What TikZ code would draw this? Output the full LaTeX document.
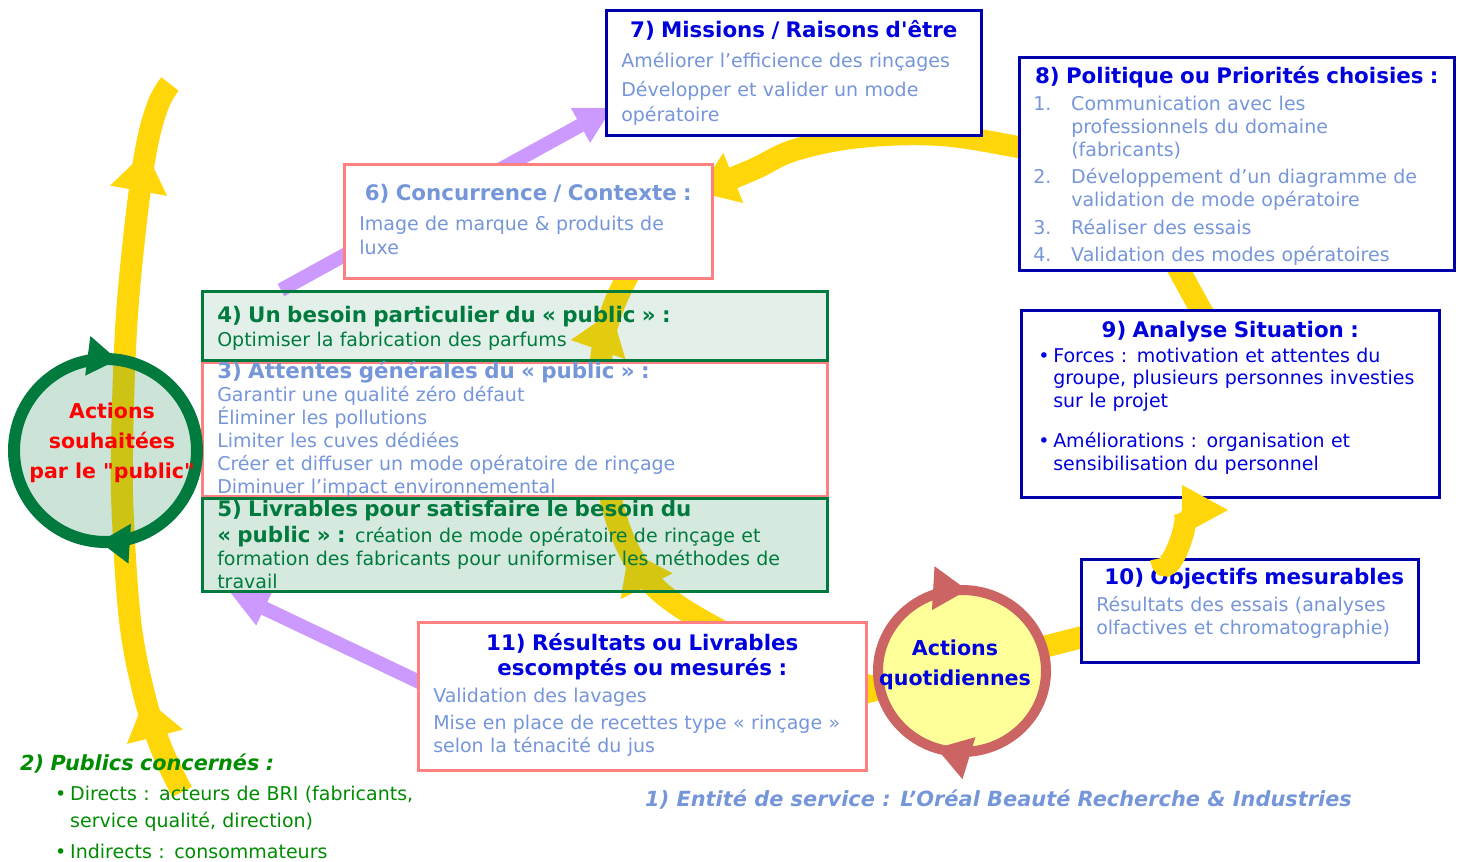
\documentclass[tikz,border=0pt]{standalone}
\usepackage{fontspec}
\setmainfont{DejaVu Sans}[Ligatures=TeXOff]
\usetikzlibrary{arrows.meta, positioning, shapes.geometric, decorations.markings, backgrounds}

\definecolor{dblue}{RGB}{0,0,170}
\definecolor{tblue}{RGB}{0,0,220}
\definecolor{lblue}{RGB}{118,150,218}
\definecolor{pinkb}{RGB}{255,128,128}
\definecolor{dgreen}{RGB}{0,122,61}
\definecolor{tgreen}{RGB}{0,140,0}
\definecolor{yel}{RGB}{255,214,10}
\definecolor{lila}{RGB}{204,153,255}
\definecolor{rring}{RGB}{205,100,100}
\definecolor{pyel}{RGB}{255,255,153}

\newcommand{\ttlf}{\fontsize{21.4}{25}\selectfont\bfseries}
\newcommand{\bul}{\makebox[15pt][l]{\textbullet}}
\newcommand{\yhead}{\arrow{Triangle[length=40pt,width=58pt,line width=0pt]}}
\newcommand{\ringhead}[2]{\arrowreversed[fill opacity=1]{Triangle[length=#1,width=#2,line width=0pt]}}

\begin{document}
\begin{tikzpicture}[x=1pt, y=-1pt,
    panel/.style={rectangle, anchor=north west, line width=2.5pt, fill=white,
        inner ysep=0pt, inner xsep=15pt, align=left, text=lblue,
        font=\fontsize{19}{23}\selectfont},
    bluepanel/.style={panel, draw=dblue},
    pinkpanel/.style={panel, draw=pinkb},
    greenpanel/.style={panel, draw=dgreen, fill=dgreen, text=dgreen, text opacity=1},
    yband/.style={draw=yel, line width=22pt},
    pband/.style={draw=lila, line width=14pt}
]
\useasboundingbox (0,0) rectangle (1459,862);

% the boxes
\node[bluepanel, minimum width=375pt, minimum height=125pt, text width=345pt,
      font=\fontsize{19}{25}\selectfont] (m7) at (605,9) {
  \makebox[\linewidth]{\ttlf\color{tblue}7) Missions / Raisons d'être}\\[5pt]
  Améliorer l’efficience des rinçages\\[4pt]
  Développer et valider un mode\\
  opératoire};

\node[bluepanel, minimum width=435pt, minimum height=213pt, inner xsep=14pt, text width=407pt] (m8) at (1018,56) {
  \makebox[\linewidth]{\ttlf\color{tblue}\rule{0pt}{22pt}8) Politique ou Priorités choisies :}\\[4pt]
  \makebox[38pt][l]{1.}Communication avec les\\
  \hspace*{38pt}professionnels du domaine\\
  \hspace*{38pt}(fabricants)\\[4pt]
  \makebox[38pt][l]{2.}Développement d’un diagramme de\\
  \hspace*{38pt}validation de mode opératoire\\[5pt]
  \makebox[38pt][l]{3.}Réaliser des essais\\[4pt]
  \makebox[38pt][l]{4.}Validation des modes opératoires};

\node[bluepanel, minimum width=418pt, minimum height=187pt, inner xsep=17pt, text width=384pt,
      text=tblue, font=\fontsize{19}{22.5}\selectfont] (m9) at (1020,309) {
  \makebox[\linewidth]{\ttlf 9) Analyse Situation :}\\[2pt]
  \bul Forces : motivation et attentes du\\
  \hspace*{15pt}groupe, plusieurs personnes investies\\
  \hspace*{15pt}sur le projet\\[18pt]
  \bul Améliorations : organisation et\\
  \hspace*{15pt}sensibilisation du personnel\rule[-16pt]{0pt}{16pt}};

\node[bluepanel, minimum width=337pt, minimum height=103pt, text width=307pt] (m10) at (1080,558) {
  \makebox[\linewidth]{\hspace{9pt}\ttlf\color{tblue}10) Objectifs mesurables}\\[4pt]
  Résultats des essais (analyses\\
  olfactives et chromatographie)\rule[-18pt]{0pt}{18pt}};

\node[pinkpanel, minimum width=448pt, minimum height=148pt, text width=418pt] (m11) at (417,621) {
  \makebox[\linewidth]{\ttlf\color{tblue}11) Résultats ou Livrables}\\[2pt]
  \makebox[\linewidth]{\ttlf\color{tblue}escomptés ou mesurés :}\\[4pt]
  Validation des lavages\\[4pt]
  Mise en place de recettes type « rinçage »\\
  selon la ténacité du jus\rule[-7pt]{0pt}{7pt}};

\node[pinkpanel, minimum width=368pt, minimum height=114pt, text width=338pt,
      font=\fontsize{19}{24}\selectfont] (m6) at (343,163) {
  \makebox[\linewidth]{\ttlf 6) Concurrence / Contexte :}\\[6pt]
  Image de marque \& produits de\\
  luxe\rule[-4pt]{0pt}{4pt}};

\node[greenpanel, fill opacity=0.11, minimum width=625pt, minimum height=69pt, text width=595pt,
      font=\fontsize{19}{24}\selectfont] (m4) at (201,290) {
  {\ttlf\rule{0pt}{22pt}4) Un besoin particulier du « public » :}\\
  Optimiser la fabrication des parfums};
\node[pinkpanel, below=0pt of m4, inner ysep=-6pt, minimum width=625pt, minimum height=133pt, text width=595pt] (m3) {
  {\ttlf 3) Attentes générales du « public » :}\\
  Garantir une qualité zéro défaut\\
  Éliminer les pollutions\\
  Limiter les cuves dédiées\\
  Créer et diffuser un mode opératoire de rinçage\\
  Diminuer l’impact environnemental};
\node[greenpanel, fill opacity=0.165, below=0pt of m3, inner ysep=-4pt, minimum width=625pt, minimum height=93pt, text width=595pt] (m5) {
  {\ttlf 5) Livrables pour satisfaire le besoin du}\\[3pt]
  {\ttlf « public » :} création de mode opératoire de rinçage et\\
  formation des fabricants pour uniformiser les méthodes de\\
  travail};

% the two cycles
\node[circle, draw=dgreen, line width=12pt, fill=dgreen, fill opacity=0.2, minimum size=183pt, inner sep=0pt,
      postaction={decorate}, decoration={markings, mark=at position 0.229 with {\ringhead{30pt}{40pt}},
      mark=at position 0.74 with {\ringhead{30pt}{40pt}}}] (act1) at (105.5,450.5) {};
\node[text=red, font=\fontsize{20.5}{30}\selectfont\bfseries, align=center] (act1t) at (112,443)
  {Actions\\souhaitées\\par le "public"};

\node[ellipse, draw=rring, line width=10pt, fill=pyel, minimum width=168pt, minimum height=162pt, inner sep=0pt,
      postaction={decorate}, decoration={markings, mark=at position 0.24 with {\ringhead{34pt}{44pt}},
      mark=at position 0.70 with {\ringhead{34pt}{44pt}}}] (act2) at (962,671) {};
\node[text=tblue, font=\fontsize{20.6}{30}\selectfont\bfseries, align=center] (act2t) at (955,665)
  {Actions\\quotidiennes};

% free texts
\node[anchor=base west, inner sep=0pt, text width=430pt, align=left, text=tgreen,
      font=\fontsize{19}{27}\selectfont] (pub) at (20,770) {
  {\fontsize{20.8}{25}\selectfont\bfseries\itshape 2) Publics concernés :}\\[3pt]
  \hspace*{35pt}\bul Directs : acteurs de BRI (fabricants,\\
  \hspace*{50pt}service qualité, direction)\\[4pt]
  \hspace*{35pt}\bul Indirects : consommateurs};
\node[anchor=base west, inner sep=0pt, text=lblue, font=\fontsize{20.9}{25}\selectfont\bfseries\itshape] (ent) at (645,806)
  {1) Entité de service : L’Oréal Beauté Recherche \& Industries};

% yellow band into box 9
\draw[yband, -{Triangle[length=46pt,width=50pt,line width=0pt]}] (1161,558) to[out=-80, in=180] (1228,510);

\begin{scope}[on background layer]
  % yellow loop
  \draw[yband, postaction={decorate}, decoration={markings,
      mark=at position 0.14 with {\yhead}, mark=at position 0.9 with {\yhead}}]
    plot[smooth, tension=0.6] coordinates {(182,792) (160,745) (143,690) (130,620) (123,520)
      (122,450) (126,330) (135,230) (146,150) (158,105) (170,84)};
  \draw[yband, postaction={decorate}, decoration={markings,
      mark=at position 0.506 with {\yhead}, mark=at position 0.918 with {\yhead}}]
    plot[smooth, tension=0.6] coordinates {(885,690) (790,662) (705,622) (652,584) (622,535)
      (605,470) (599,400) (603,345) (614,305) (632,268)};
  \draw[yband, -{Triangle[length=38pt,width=54pt,line width=0pt]}]
    plot[smooth, tension=0.6] coordinates {(1080,160) (1018,147) (940,135) (860,137) (795,150)
      (752,170) (698,192)};
  \draw[yband] (1212,330) -- (1168,250);
  \draw[yband] (860,694) -- (1110,630);
  % purple arrows
  \coordinate (p1a) at (281,290);
  \coordinate (p1b) at (612,108);
  \draw[pband, -{Triangle[length=36pt,width=40pt,line width=0pt]}] (p1a) -- (p1b);
  \coordinate (p2a) at (432,688);
  \coordinate (p2b) at (230,592);
  \draw[pband, -{Triangle[length=38pt,width=38pt,line width=0pt]}] (p2a) -- (p2b);
\end{scope}

\end{tikzpicture}
\end{document}
